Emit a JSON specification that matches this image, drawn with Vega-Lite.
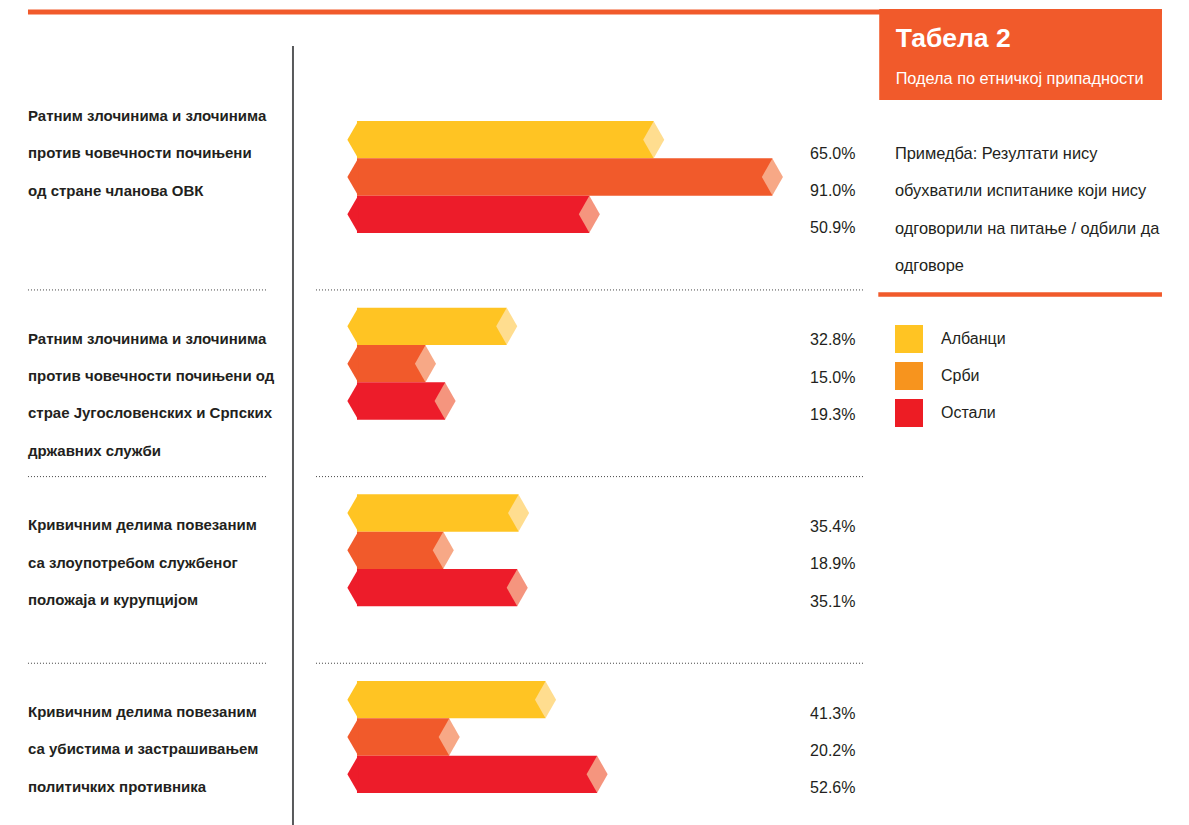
{
  "$schema": "https://vega.github.io/schema/vega-lite/v6.json",
  "width": 1189,
  "height": 825,
  "padding": 0,
  "autosize": {"type": "none"},
  "background": "white",
  "config": {"view": {"stroke": null}, "font": "Liberation Sans"},
  "datasets": {
    "bars": [
      {"group": "g1", "ethnicity": "Албанци", "value": 65.0},
      {"group": "g1", "ethnicity": "Срби", "value": 91.0},
      {"group": "g1", "ethnicity": "Остали", "value": 50.9},
      {"group": "g2", "ethnicity": "Албанци", "value": 32.8},
      {"group": "g2", "ethnicity": "Срби", "value": 15.0},
      {"group": "g2", "ethnicity": "Остали", "value": 19.3},
      {"group": "g3", "ethnicity": "Албанци", "value": 35.4},
      {"group": "g3", "ethnicity": "Срби", "value": 18.9},
      {"group": "g3", "ethnicity": "Остали", "value": 35.1},
      {"group": "g4", "ethnicity": "Албанци", "value": 41.3},
      {"group": "g4", "ethnicity": "Срби", "value": 20.2},
      {"group": "g4", "ethnicity": "Остали", "value": 52.6}
    ],
    "groups": [
      {"group": "g1", "label": "Ратним злочинима и злочинима\nпротив човечности почињени\nод стране чланова ОВК"},
      {"group": "g2", "label": "Ратним злочинима и злочинима\nпротив човечности почињени од\nстрае Југословенских и Српских\nдржавних служби"},
      {"group": "g3", "label": "Кривичним делима повезаним\nса злоупотребом службеног\nположаја и курупцијом"},
      {"group": "g4", "label": "Кривичним делима повезаним\nса убистима и застрашивањем\nполитичких противника"}
    ]
  },
  "layer": [
    {
      "layer": [
        {
          "data": {"name": "groups"},
          "transform": [{"filter": "datum.group !== 'g1'"}],
          "mark": {"type": "rule", "color": "#444444", "strokeWidth": 1, "strokeDash": [1, 2]},
          "encoding": {
            "y": {"field": "group", "type": "nominal", "bandPosition": 0.105, "axis": null,
                  "scale": {"type": "band", "domain": ["g1", "g2", "g3", "g4"], "range": [83.7, 830.3], "paddingInner": 0, "paddingOuter": 0}},
            "x": {"datum": -72.07, "axis": null, "scale": {"domain": [-78.2, 182.26], "nice": false, "zero": false}},
            "x2": {"datum": -19.5}
          }
        },
        {
          "data": {"name": "groups"},
          "transform": [{"filter": "datum.group !== 'g1'"}],
          "mark": {"type": "rule", "color": "#444444", "strokeWidth": 1, "strokeDash": [1, 2]},
          "encoding": {
            "y": {"field": "group", "type": "nominal", "bandPosition": 0.105, "axis": null},
            "x": {"datum": -8.98},
            "x2": {"datum": 111.28}
          }
        },
        {
          "data": {"name": "groups"},
          "transform": [{"filter": "datum.group === 'g1'"}],
          "mark": {"type": "text", "align": "left", "baseline": "alphabetic", "dy": -56, "fontSize": 15, "fontWeight": "bold", "lineHeight": 37.4, "lineBreak": "\n", "color": "#231F20"},
          "encoding": {
            "y": {"field": "group", "type": "nominal", "axis": null},
            "x": {"datum": -72.07},
            "text": {"field": "label"}
          }
        },
        {
          "data": {"name": "groups"},
          "transform": [{"filter": "datum.group !== 'g1'"}],
          "mark": {"type": "text", "align": "left", "baseline": "alphabetic", "dy": -20, "fontSize": 15, "fontWeight": "bold", "lineHeight": 37.4, "lineBreak": "\n", "color": "#231F20"},
          "encoding": {
            "y": {"field": "group", "type": "nominal", "axis": null},
            "x": {"datum": -72.07},
            "text": {"field": "label"}
          }
        },
        {
          "data": {"name": "bars"},
          "mark": {"type": "bar", "cornerRadius": 0},
          "encoding": {
            "y": {"field": "group", "type": "nominal", "axis": null},
            "yOffset": {"field": "ethnicity", "type": "nominal",
                        "scale": {"domain": ["Албанци", "Срби", "Остали"], "paddingInner": 0, "paddingOuter": 1.02}},
            "x": {"field": "value", "type": "quantitative"},
            "x2": {"datum": 0},
            "color": {"field": "ethnicity", "type": "nominal", "legend": null,
                      "scale": {"domain": ["Албанци", "Срби", "Остали"], "range": ["#FFC423", "#F15A2B", "#ED1C2A"]}}
          }
        },
        {
          "data": {"name": "bars"},
          "mark": {"type": "point", "filled": true, "opacity": 1, "strokeWidth": 0, "size": 1369, "shape": "M0.06,-1L-0.52,0L0.06,1Z"},
          "encoding": {
            "y": {"field": "group", "type": "nominal", "axis": null},
            "yOffset": {"field": "ethnicity", "type": "nominal"},
            "x": {"datum": 0},
            "color": {"field": "ethnicity", "type": "nominal", "legend": null}
          }
        },
        {
          "data": {"name": "bars"},
          "mark": {"type": "point", "filled": true, "opacity": 1, "strokeWidth": 0, "size": 1369, "shape": "M0,-1L0.57,0L0,1L-0.57,0Z"},
          "encoding": {
            "y": {"field": "group", "type": "nominal", "axis": null},
            "yOffset": {"field": "ethnicity", "type": "nominal"},
            "x": {"field": "value", "type": "quantitative"},
            "fill": {"field": "ethnicity", "type": "nominal", "legend": null,
                     "scale": {"domain": ["Албанци", "Срби", "Остали"], "range": ["#FFDD8F", "#F7A886", "#F5957E"]}}
          }
        },
        {
          "data": {"name": "bars"},
          "transform": [{"calculate": "format(datum.value, '.1f') + '%'", "as": "pct"}],
          "mark": {"type": "text", "align": "right", "baseline": "alphabetic", "dy": 19, "fontSize": 16, "color": "#231F20"},
          "encoding": {
            "y": {"field": "group", "type": "nominal", "axis": null},
            "yOffset": {"field": "ethnicity", "type": "nominal"},
            "x": {"datum": 109.2},
            "text": {"field": "pct"}
          }
        }
      ]
    },
    {
      "data": {"name": "bars"},
      "transform": [{"filter": "datum.group === 'g1'"}],
      "layer": [
        {
          "mark": {"type": "point", "shape": "square", "filled": true, "opacity": 1, "strokeWidth": 0, "size": 784},
          "encoding": {
            "x": {"datum": 120.92},
            "y": {"field": "ethnicity", "type": "nominal", "axis": null,
                  "scale": {"type": "band", "domain": ["Албанци", "Срби", "Остали"], "range": [320.5, 431.5], "paddingInner": 0, "paddingOuter": 0}},
            "fill": {"field": "ethnicity", "type": "nominal", "legend": null,
                     "scale": {"domain": ["Албанци", "Срби", "Остали"], "range": ["#FFC423", "#F7941E", "#ED1C24"]}}
          }
        },
        {
          "mark": {"type": "text", "align": "left", "baseline": "middle", "fontSize": 16, "color": "#231F20"},
          "encoding": {
            "x": {"datum": 127.93},
            "y": {"field": "ethnicity", "type": "nominal", "axis": null},
            "text": {"field": "ethnicity"}
          }
        }
      ]
    },
    {
      "data": {"values": [{}]},
      "layer": [
        {
          "mark": {"type": "rule", "color": "#F15A2B", "strokeWidth": 5},
          "encoding": {
            "x": {"datum": -72.07},
            "x2": {"datum": 176.34},
            "y": {"datum": 12, "axis": null, "scale": {"type": "linear", "domain": [0, 825], "reverse": true, "zero": false, "nice": false}}
          }
        },
        {
          "mark": {"type": "rect", "color": "#F15A2B"},
          "encoding": {
            "x": {"datum": 114.4},
            "x2": {"datum": 176.34},
            "y": {"datum": 9},
            "y2": {"datum": 100}
          }
        },
        {
          "mark": {"type": "text", "text": "Табела 2", "align": "left", "baseline": "alphabetic", "fontSize": 26.5, "fontWeight": "bold", "color": "white"},
          "encoding": {"x": {"datum": 118.0}, "y": {"datum": 47}}
        },
        {
          "mark": {"type": "text", "text": "Подела по етничкој припадности", "align": "left", "baseline": "alphabetic", "fontSize": 16.3, "color": "white"},
          "encoding": {"x": {"datum": 118.0}, "y": {"datum": 84}}
        },
        {
          "mark": {"type": "text", "text": "Примедба: Резултати нису\nобухватили испитанике који нису\nодговорили на питање / одбили да\nодговоре", "lineBreak": "\n", "lineHeight": 37.4, "align": "left", "baseline": "alphabetic", "fontSize": 16.4, "color": "#231F20"},
          "encoding": {"x": {"datum": 117.85}, "y": {"datum": 159}}
        },
        {
          "mark": {"type": "rule", "color": "#F15A2B", "strokeWidth": 4.5},
          "encoding": {"x": {"datum": 114.2}, "x2": {"datum": 176.34}, "y": {"datum": 294.5}}
        },
        {
          "mark": {"type": "rule", "color": "#58595B", "strokeWidth": 2},
          "encoding": {"x": {"datum": -14.02}, "y": {"datum": 46}, "y2": {"datum": 825}}
        }
      ]
    }
  ],
  "resolve": {"scale": {"y": "independent", "fill": "independent"}}
}
